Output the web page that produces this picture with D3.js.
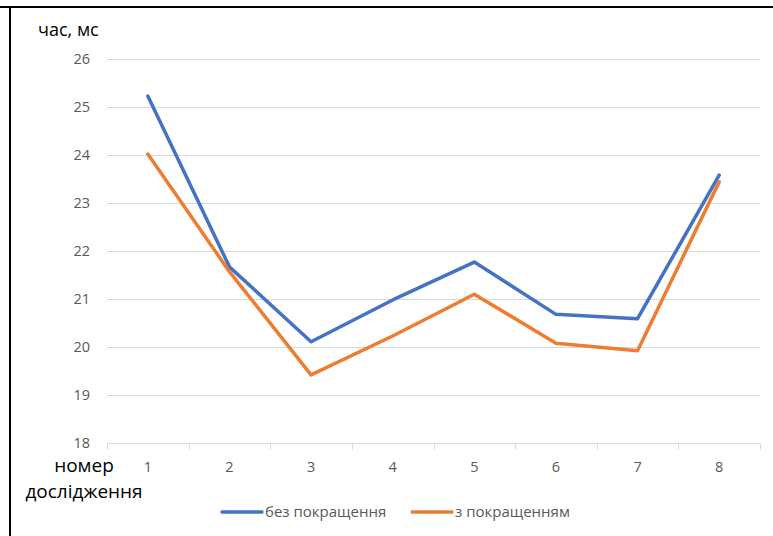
<!DOCTYPE html>
<html>
<head>
<meta charset="utf-8">
<script src="https://cdn.jsdelivr.net/npm/d3@7"></script>
<style>
  html, body { margin: 0; padding: 0; background: #fff; }
  svg { display: block; }
  text { font-family: "Open Sans", Lato, sans-serif; }
</style>
</head>
<body>
<svg id="chart" width="773" height="536"></svg>
<script>
// Study numbers and response times (ms)
const categories = ["1", "2", "3", "4", "5", "6", "7", "8"];
const withoutImprovement = [25.23, 21.67, 20.11, 20.98, 21.77, 20.68, 20.59, 23.58];
const withImprovement = [24.02, 21.57, 19.42, 20.23, 21.10, 20.08, 19.92, 23.44];
const yTicks = [18, 19, 20, 21, 22, 23, 24, 25, 26];
const seriesNames = ["без покращення", "з покращенням"];
const seriesColors = ["#4472C4", "#ED7D31"];

const svg = d3.select("#chart");
const W = 773, H = 536;

// outer frame (top and left edges)
svg.append("line").attr("x1", 0).attr("x2", W).attr("y1", 7).attr("y2", 7)
  .attr("stroke", "#000").attr("stroke-width", 2);
svg.append("line").attr("x1", 10).attr("x2", 10).attr("y1", 6).attr("y2", H)
  .attr("stroke", "#000").attr("stroke-width", 2);

const x = d3.scaleBand().domain(categories).range([107, 760]);
const y = d3.scaleLinear().domain([18, 26]).range([443, 59]);

// horizontal gridlines
svg.append("g").selectAll("line").data(yTicks.slice(1)).join("line")
  .attr("x1", 107).attr("x2", 760)
  .attr("y1", d => y(d) + 0.5).attr("y2", d => y(d) + 0.5)
  .attr("stroke", "#d9d9d9").attr("stroke-width", 1);

// y axis labels
const yAxis = d3.axisLeft(y).tickValues(yTicks).tickSize(0).tickPadding(17);
const gy = svg.append("g").attr("transform", "translate(107,0)").call(yAxis);
gy.select(".domain").remove();
gy.selectAll("text").attr("fill", "#595959").attr("font-size", 14.5)
  .style("font-family", "'Open Sans', Lato, sans-serif");

// x axis with boundary ticks
const gx = svg.append("g").attr("transform", "translate(0,443.5)");
gx.append("line").attr("x1", 107).attr("x2", 760).attr("stroke", "#d9d9d9");
const bounds = categories.map(c => x(c)).concat([x.range()[1]]);
gx.selectAll("line.tick").data(bounds).join("line").attr("class", "tick")
  .attr("x1", d => Math.round(d) + 0.5).attr("x2", d => Math.round(d) + 0.5)
  .attr("y1", 0).attr("y2", 6).attr("stroke", "#d9d9d9");
gx.selectAll("text").data(categories).join("text")
  .attr("x", d => x(d) + x.bandwidth() / 2).attr("y", 28)
  .attr("text-anchor", "middle").attr("fill", "#595959").attr("font-size", 14.5)
  .text(d => d);

// axis titles
svg.append("text").attr("x", 38).attr("y", 36).attr("font-size", 18)
  .attr("fill", "#000").text("час, мс");
svg.append("text").attr("x", 84).attr("y", 472).attr("text-anchor", "middle")
  .attr("font-size", 19).attr("fill", "#000").text("номер");
svg.append("text").attr("x", 84).attr("y", 498).attr("text-anchor", "middle")
  .attr("font-size", 19).attr("fill", "#000").text("дослідження");

// series lines
const line = d3.line()
  .x((d, i) => x(categories[i]) + x.bandwidth() / 2)
  .y(d => y(d));
[withoutImprovement, withImprovement].forEach((vals, i) => {
  svg.append("path").datum(vals).attr("d", line)
    .attr("fill", "none").attr("stroke", seriesColors[i])
    .attr("stroke-width", 3.5).attr("stroke-linejoin", "round").attr("stroke-linecap", "round");
});

// legend
const legendX = [222, 412];
seriesNames.forEach((name, i) => {
  const g = svg.append("g").attr("transform", `translate(${legendX[i]},512)`);
  g.append("line").attr("x1", 0).attr("x2", 40).attr("stroke", seriesColors[i])
    .attr("stroke-width", 3.5).attr("stroke-linecap", "round");
  g.append("text").attr("x", 43).attr("y", 5).attr("font-size", 15)
    .attr("fill", "#595959").text(name);
});
</script>
</body>
</html>
